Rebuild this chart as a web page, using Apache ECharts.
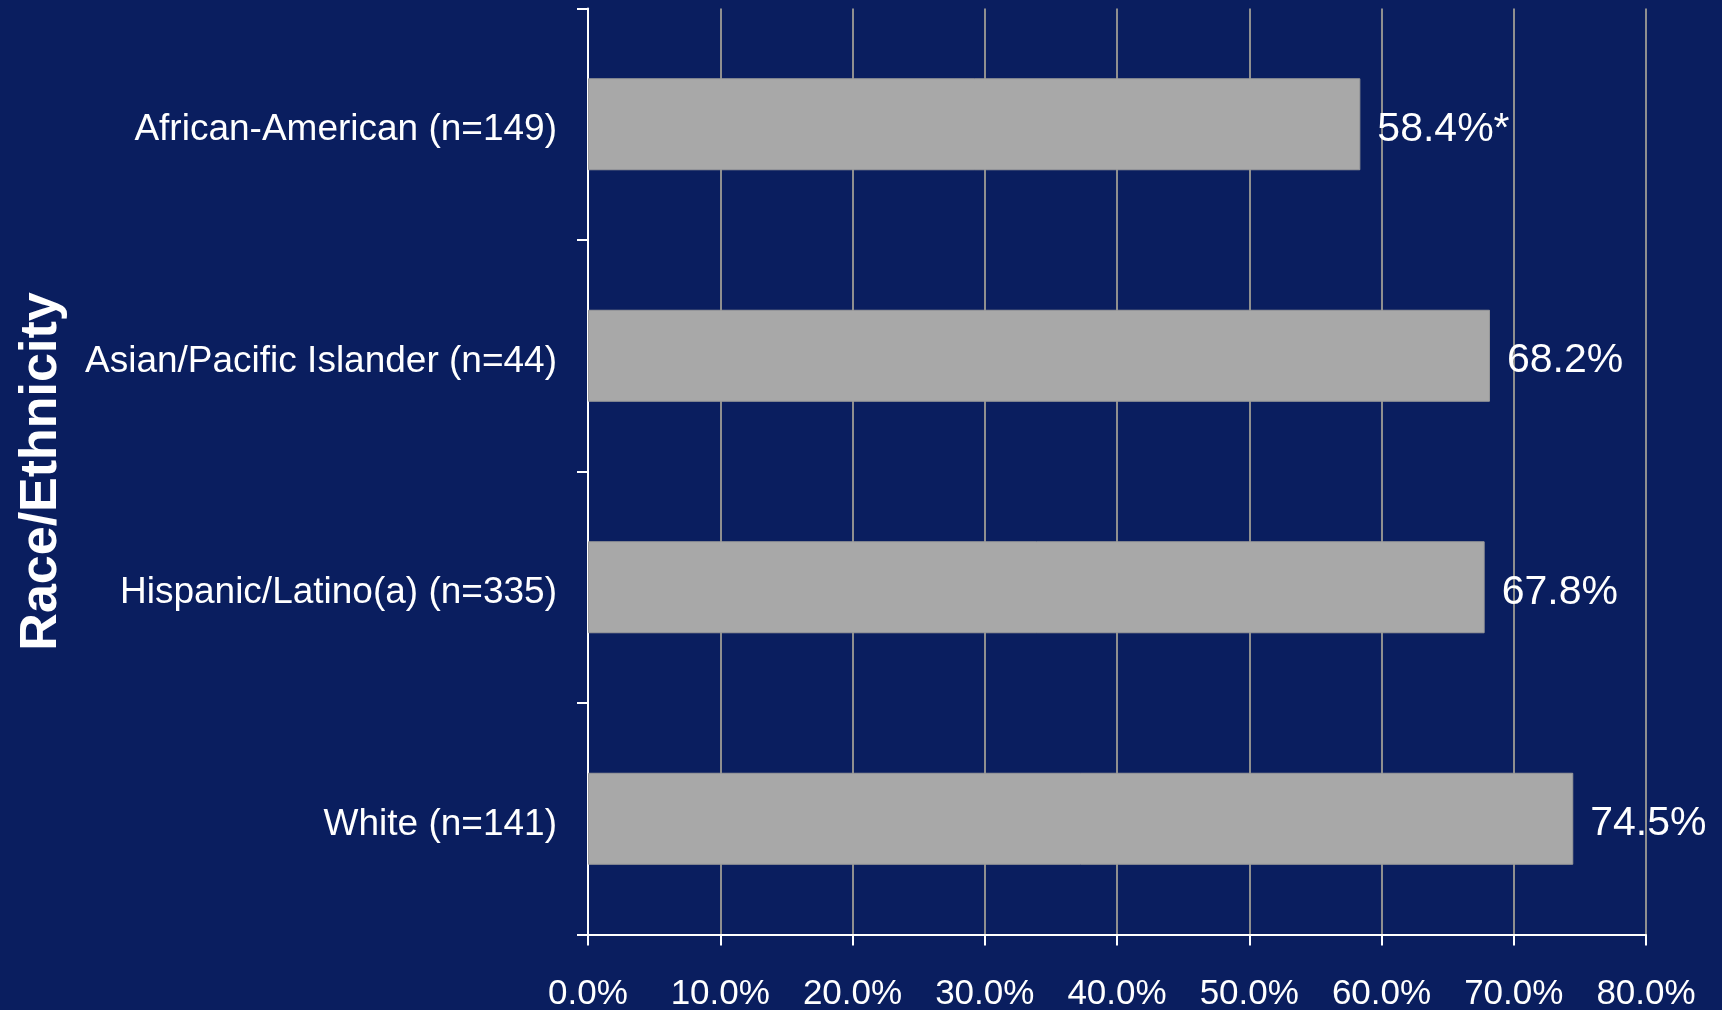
<!DOCTYPE html>
<html>
<head>
<meta charset="utf-8">
<title>Race/Ethnicity</title>
<script src="https://cdn.jsdelivr.net/npm/echarts@6/dist/echarts.min.js"></script>
<style>
  html, body { margin: 0; padding: 0; background: #0a1e5f; }
  #chart { width: 1722px; height: 1010px; }
</style>
</head>
<body>
<div id="chart"></div>
<script>
// Groups, listed top to bottom
const categories = [
  'African-American (n=149)',
  'Asian/Pacific Islander (n=44)',
  'Hispanic/Latino(a) (n=335)',
  'White (n=141)'
];
// Percentage per group
const values = [58.4, 68.2, 67.8, 74.5];
// Significance markers appended to each value label
const markers = ['*', '', '', ''];
// Value axis range and step (percent)
const axisMin = 0;
const axisMax = 80;
const axisStep = 10;

const FONT = '"Liberation Sans", Arial, sans-serif';
const WHITE = '#ffffff';

const chart = echarts.init(document.getElementById('chart'), null, { renderer: 'canvas' });

chart.setOption({
  backgroundColor: '#0a1e5f',
  animation: false,
  grid: {
    left: 588, right: 76, top: 8.5, bottom: 75.5,
    containLabel: false,
    outerBoundsMode: 'none'
  },
  xAxis: {
    type: 'value',
    min: axisMin,
    max: axisMax,
    interval: axisStep,
    axisLine: { show: true, lineStyle: { color: WHITE, width: 2 } },
    axisTick: { show: true, length: 11, lineStyle: { color: WHITE, width: 2 } },
    splitLine: { show: true, lineStyle: { color: '#8f8f8f', width: 2 } },
    axisLabel: {
      color: WHITE,
      fontFamily: FONT,
      fontSize: 35,
      margin: 42,
      formatter: v => v.toFixed(1) + '%'
    }
  },
  yAxis: {
    type: 'category',
    data: categories,
    inverse: true,
    name: 'Race/Ethnicity',
    nameLocation: 'middle',
    nameGap: 520,
    nameTextStyle: {
      color: WHITE,
      fontFamily: FONT,
      fontSize: 52,
      fontWeight: 'bold'
    },
    axisLine: { show: true, lineStyle: { color: WHITE, width: 2 } },
    axisTick: { show: true, length: 11, alignWithLabel: false, lineStyle: { color: WHITE, width: 2 } },
    splitLine: { show: false },
    axisLabel: {
      color: WHITE,
      fontFamily: FONT,
      fontSize: 37,
      margin: 31,
      verticalAlign: 'top',
      lineHeight: 12
    }
  },
  series: [{
    type: 'bar',
    data: values,
    barWidth: 92,
    itemStyle: { color: '#a8a8a8', borderColor: '#9a9a9a', borderWidth: 1 },
    label: {
      show: true,
      position: 'right',
      distance: 17,
      offset: [0, 5],
      color: WHITE,
      fontFamily: FONT,
      fontSize: 41,
      formatter: p => values[p.dataIndex].toFixed(1) + '%' + markers[p.dataIndex]
    }
  }]
});
</script>
</body>
</html>
